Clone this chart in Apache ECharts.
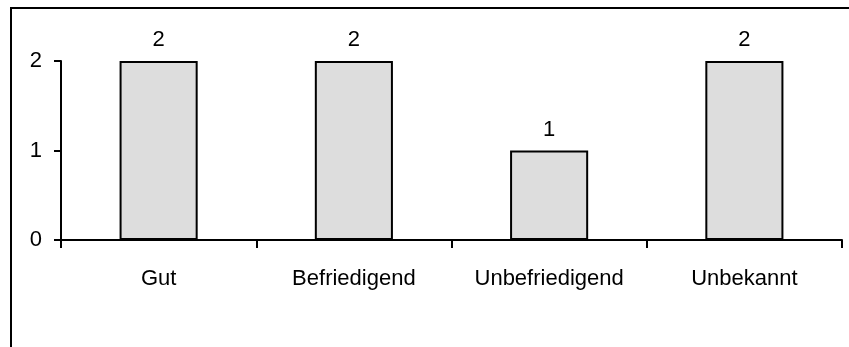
<!DOCTYPE html>
<html>
<head>
<meta charset="utf-8">
<style>
  html, body { margin: 0; padding: 0; background: #ffffff; }
  #chart { width: 849px; height: 347px; }
</style>
<script src="https://cdn.jsdelivr.net/npm/echarts@6/dist/echarts.min.js"></script>
</head>
<body>
<div id="chart"></div>
<script>
// Ratings and how many entries fall into each
const categories = ['Gut', 'Befriedigend', 'Unbefriedigend', 'Unbekannt'];
const counts = [2, 2, 1, 2];
const yTicks = [0, 1, 2];

const FONT = '"Liberation Sans", Arial, sans-serif';

const chart = echarts.init(document.getElementById('chart'), null, { renderer: 'canvas' });

chart.setOption({
  animation: false,
  backgroundColor: '#ffffff',
  textStyle: { fontFamily: FONT },
  graphic: [{
    // frame around the plot area (runs off the right and bottom edges)
    type: 'rect',
    shape: { x: 11, y: 8, width: 900, height: 400 },
    style: { fill: 'none', stroke: '#000000', lineWidth: 2 },
    silent: true,
    z: 0
  }],
  grid: { left: 61, right: 7, top: 61, bottom: 107, containLabel: false },
  xAxis: {
    type: 'category',
    data: categories,
    boundaryGap: true,
    axisLine: { show: true, lineStyle: { color: '#000000', width: 2 } },
    axisTick: { show: true, inside: false, length: 8, alignWithLabel: false,
                lineStyle: { color: '#000000', width: 2 } },
    axisLabel: { color: '#000000', fontSize: 22, fontFamily: FONT, margin: 28, interval: 0 },
    splitLine: { show: false }
  },
  yAxis: {
    type: 'value',
    min: yTicks[0],
    max: yTicks[yTicks.length - 1],
    interval: 1,
    axisLine: { show: true, lineStyle: { color: '#000000', width: 2 } },
    axisTick: { show: true, inside: false, length: 7, lineStyle: { color: '#000000', width: 2 } },
    axisLabel: { color: '#000000', fontSize: 22, fontFamily: FONT, margin: 19 },
    splitLine: { show: false }
  },
  series: [{
    type: 'bar',
    data: counts,
    barWidth: '40%',
    itemStyle: { color: '#dddddd', borderColor: '#000000', borderWidth: 2 },
    label: {
      show: true,
      position: 'top',
      distance: 10,
      color: '#000000',
      fontSize: 22,
      fontFamily: FONT
    }
  }]
});
</script>
</body>
</html>
